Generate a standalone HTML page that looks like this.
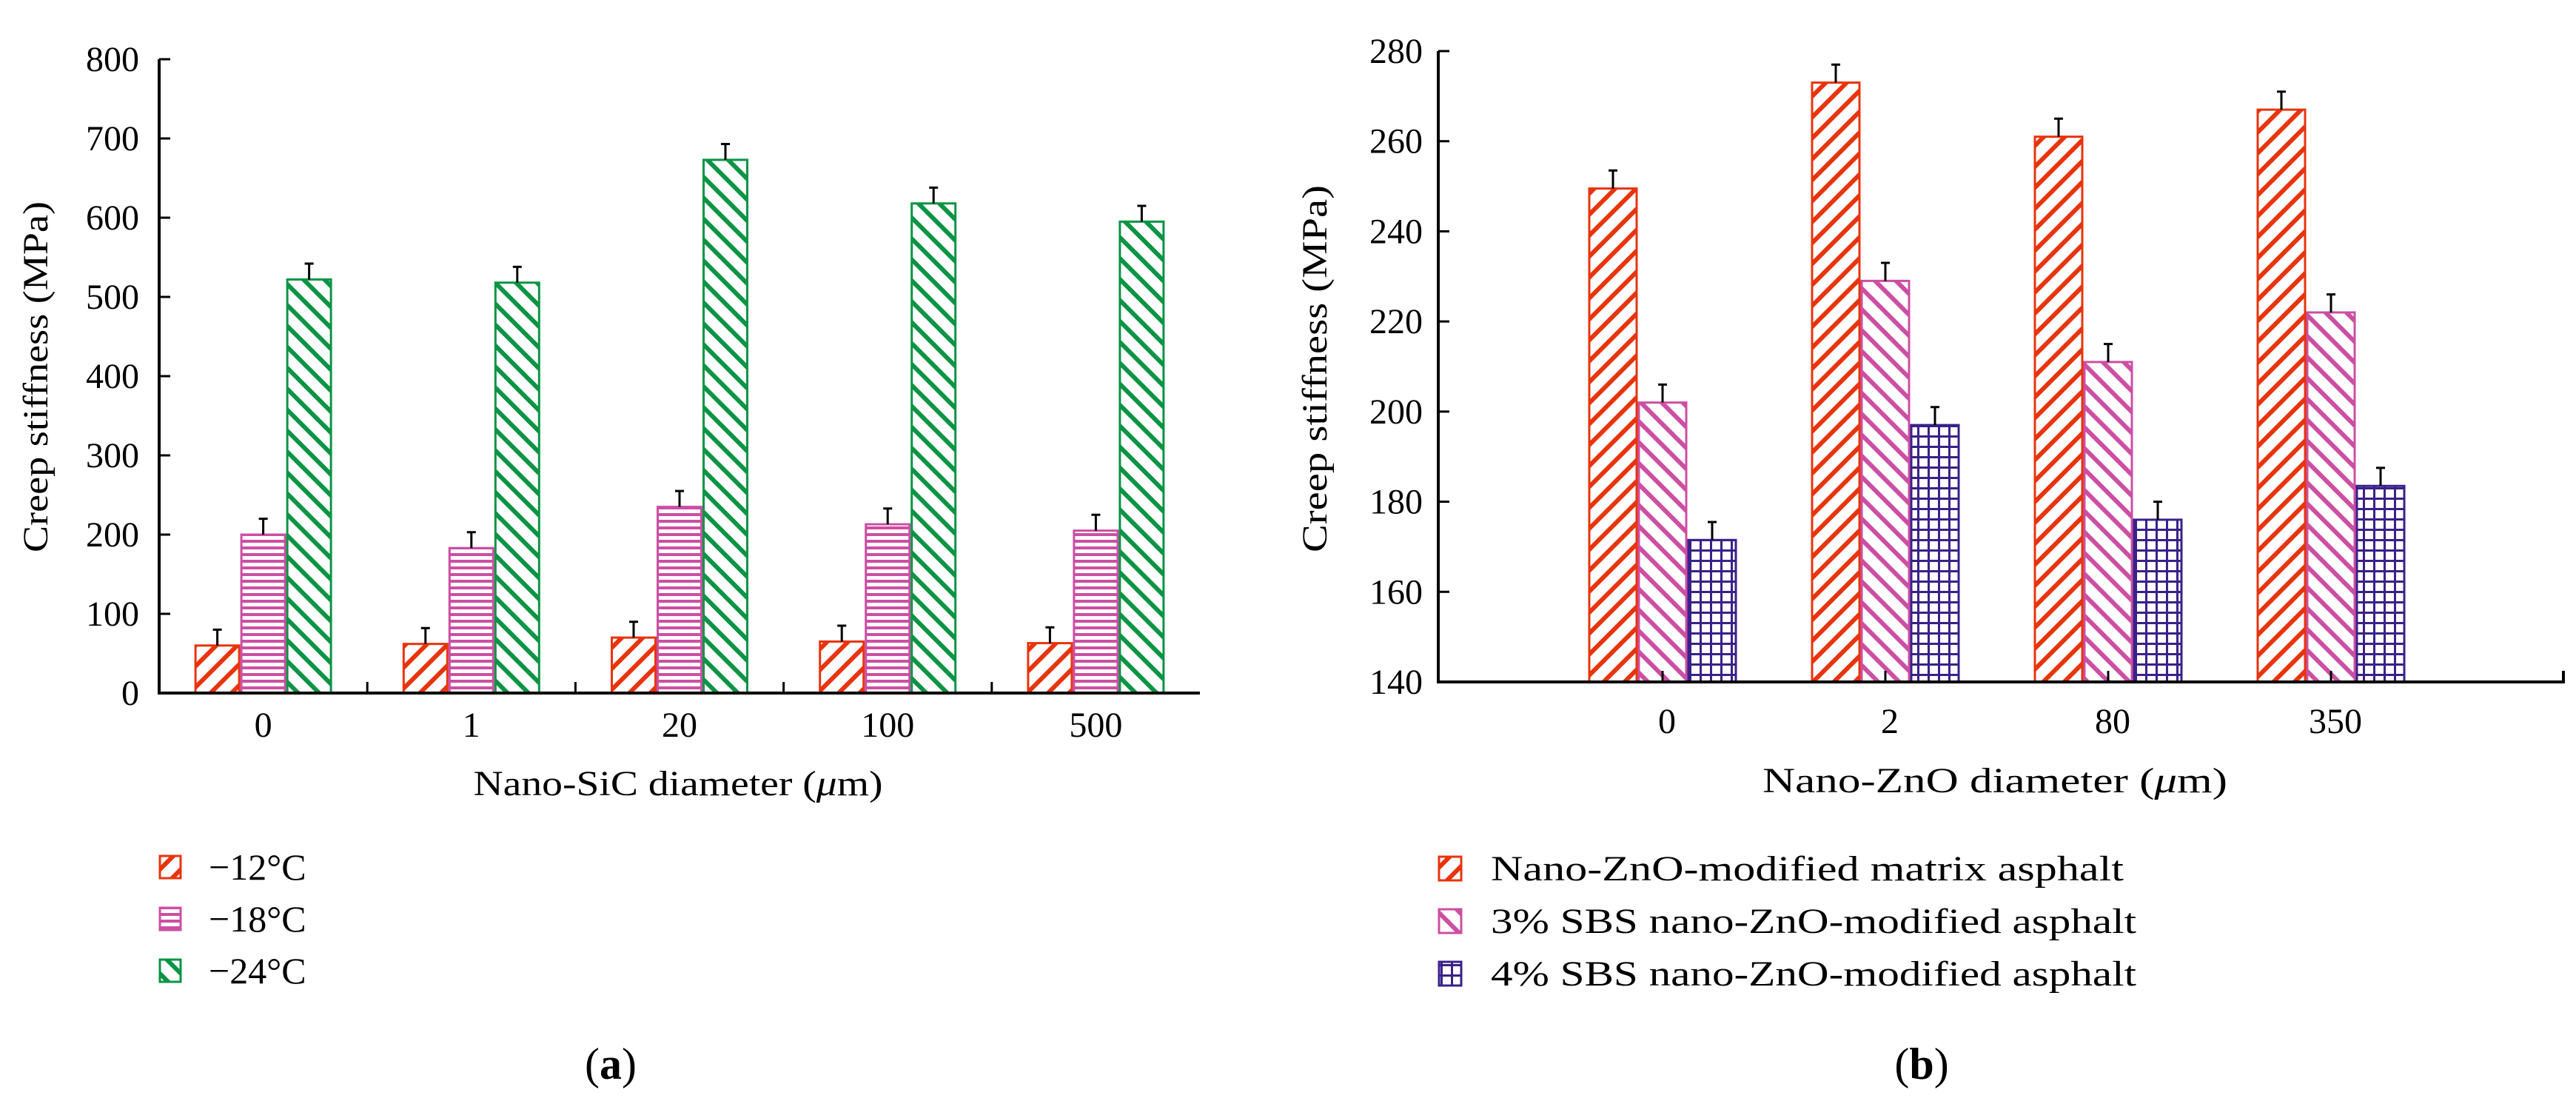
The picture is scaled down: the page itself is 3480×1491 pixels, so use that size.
<!DOCTYPE html>
<html><head><meta charset="utf-8"><style>
html,body{margin:0;padding:0;background:#fff;}
svg{display:block;font-family:"Liberation Serif",serif;}
</style></head><body>
<svg id="fig" width="3480" height="1491" viewBox="0 0 3480 1491" xmlns="http://www.w3.org/2000/svg">
<defs>
<pattern id="pRed" patternUnits="userSpaceOnUse" width="20" height="20" patternTransform="rotate(45)"><rect width="20" height="20" fill="#fff"/><rect x="0" y="0" width="6" height="20" fill="#e8340c"/></pattern>
<pattern id="pGreen" patternUnits="userSpaceOnUse" width="20" height="20" patternTransform="rotate(-45)"><rect width="20" height="20" fill="#fff"/><rect x="0" y="0" width="6" height="20" fill="#0a9444"/></pattern>
<pattern id="pPinkH" patternUnits="userSpaceOnUse" width="10" height="9"><rect width="10" height="9" fill="#fff"/><rect x="0" y="0" width="10" height="4" fill="#cc4fa3"/></pattern>
<pattern id="pPinkD" patternUnits="userSpaceOnUse" width="20" height="20" patternTransform="rotate(-45)"><rect width="20" height="20" fill="#fff"/><rect x="0" y="0" width="6" height="20" fill="#cc4fa3"/></pattern>
<pattern id="pBlue" patternUnits="userSpaceOnUse" width="14" height="14"><rect width="14" height="14" fill="#fff"/><rect x="0" y="0" width="3" height="14" fill="#3a2189"/><rect x="0" y="0" width="14" height="3" fill="#3a2189"/></pattern>
</defs>
<g id="chartA"></g>
<g id="chartB"></g>
</svg>
<script>
const catsA = ["0","1","20","100","500"];
const serA1 = [60, 62, 70, 65, 63];
const serA2 = [200, 183, 235, 213, 205];
const serA3 = [522, 518, 673, 618, 595];
const errA = [20, 20, 20, 20, 20];
const ticksA = [0,100,200,300,400,500,600,700,800];
const legendA = ["\u221212\u00b0C","\u221218\u00b0C","\u221224\u00b0C"];

const catsB = ["0","2","80","350"];
const serB1 = [249.5, 273, 261, 267];
const serB2 = [202, 229, 211, 222];
const serB3 = [171.5, 197, 176, 183.5];
const errB = [4, 4, 4, 4];
const ticksB = [140,160,180,200,220,240,260,280];
const legendB = ["Nano-ZnO-modified matrix asphalt","3% SBS nano-ZnO-modified asphalt","4% SBS nano-ZnO-modified asphalt"];

const NS = "http://www.w3.org/2000/svg";
function mk(parent, tag, attrs, text){
  const e = document.createElementNS(NS, tag);
  for (const k in attrs) e.setAttribute(k, attrs[k]);
  if (text !== undefined) e.textContent = text;
  parent.appendChild(e);
  return e;
}

// ---------- Chart A ----------
const gA = document.getElementById('chartA');
const axA = {x0:215, x1:1621, y0:936, yTop:80, vmin:0, vmax:800};
const yA = v => axA.y0 - (v - axA.vmin) / (axA.vmax - axA.vmin) * (axA.y0 - axA.yTop);
const catWA = (axA.x1 - axA.x0) / catsA.length;
const xA = i => axA.x0 + catWA * (i + 0.5);
const bwA = 62;
const seriesA = [serA1, serA2, serA3];
const fillsA = ["url(#pRed)","url(#pPinkH)","url(#pGreen)"];
const strokesA = ["#e8340c","#cc4fa3","#0a9444"];

seriesA.forEach((ser, s) => {
  ser.forEach((v, i) => {
    const x = xA(i) - 1.5*bwA + s*bwA;
    const r = mk(gA, 'rect', {x:x+1.5, y:yA(v), width:bwA-3, height:yA(0)-yA(v), fill:fillsA[s], stroke:strokesA[s], 'stroke-width':3});
    
    
    const cx = x + bwA/2;
    const eb = mk(gA, 'path', {d:`M${cx} ${yA(v)} V${yA(v+errA[i])} M${cx-6} ${yA(v+errA[i])} H${cx+6}`, stroke:'#000', 'stroke-width':3, fill:'none'});
    
    
  });
});
// axes
const axisA = mk(gA, 'path', {d:`M${axA.x0} ${axA.yTop} V${axA.y0} H${axA.x1}`, stroke:'#000', 'stroke-width':4, fill:'none'});


ticksA.forEach(t => {
  mk(gA, 'line', {x1:axA.x0, x2:axA.x0+15, y1:yA(t), y2:yA(t), stroke:'#000', 'stroke-width':3});
  const tl = mk(gA, 'text', {x:188, y:yA(t)+16, 'text-anchor':'end', 'font-size':48}, String(t));
  
  
});
for (let i = 1; i < catsA.length; i++) {
  const bx = axA.x0 + catWA*i;
  mk(gA, 'line', {x1:bx, x2:bx, y1:axA.y0, y2:axA.y0-15, stroke:'#000', 'stroke-width':3});
}
catsA.forEach((c, i) => {
  const tl = mk(gA, 'text', {x:xA(i), y:995, 'text-anchor':'middle', 'font-size':48}, c);
  
  
});
const ytA = mk(gA, 'text', {x:0, y:0, 'text-anchor':'middle', 'font-size':48, transform:'translate(64 509) rotate(-90)', textLength:474, lengthAdjust:'spacingAndGlyphs'}, 'Creep stiffness (MPa)');


const xtA = mk(gA, 'text', {x:916, y:1074, 'text-anchor':'middle', 'font-size':48, textLength:553, lengthAdjust:'spacingAndGlyphs'});


mk(xtA, 'tspan', {}, 'Nano-SiC diameter (');
mk(xtA, 'tspan', {'font-style':'italic'}, '\u03bc');
mk(xtA, 'tspan', {}, 'm)');
legendA.forEach((l, s) => {
  const cy = 1171 + s*70;
  const sw = mk(gA, 'rect', {x:216, y:cy-15, width:28, height:30, fill:fillsA[s], stroke:strokesA[s], 'stroke-width':3});
  
  
  const lt = mk(gA, 'text', {x:282, y:cy+17, 'font-size':50}, l);
  
  
});
const capA = mk(gA, 'text', {x:825, y:1457, 'text-anchor':'middle', 'font-size':60});


mk(capA, 'tspan', {}, '(');
mk(capA, 'tspan', {'font-weight':'bold'}, 'a');
mk(capA, 'tspan', {}, ')');

// ---------- Chart B ----------
const gB = document.getElementById('chartB');
const axB = {x0:1943, x1:3463, y0:921, yTop:69, vmin:140, vmax:280};
const yB = v => axB.y0 - (v - axB.vmin) / (axB.vmax - axB.vmin) * (axB.y0 - axB.yTop);
const xB = i => 2246 + 301*i;
const bwB = 67;
const seriesB = [serB1, serB2, serB3];
const fillsB = ["url(#pRed)","url(#pPinkD)","url(#pBlue)"];
const strokesB = ["#e8340c","#cc4fa3","#3a2189"];
seriesB.forEach((ser, s) => {
  ser.forEach((v, i) => {
    const x = xB(i) - 1.5*bwB + s*bwB;
    const r = mk(gB, 'rect', {x:x+1.5, y:yB(v), width:bwB-3, height:yB(axB.vmin)-yB(v), fill:fillsB[s], stroke:strokesB[s], 'stroke-width':3});
    
    
    const cx = x + bwB/2;
    const eb = mk(gB, 'path', {d:`M${cx} ${yB(v)} V${yB(v+errB[i])} M${cx-6} ${yB(v+errB[i])} H${cx+6}`, stroke:'#000', 'stroke-width':3, fill:'none'});
    
    
  });
});
const axisB = mk(gB, 'path', {d:`M${axB.x0} ${axB.yTop} V${axB.y0} H${axB.x1} V${axB.y0-15}`, stroke:'#000', 'stroke-width':4, fill:'none'});


ticksB.forEach(t => {
  mk(gB, 'line', {x1:axB.x0, x2:axB.x0+15, y1:yB(t), y2:yB(t), stroke:'#000', 'stroke-width':3});
  const tl = mk(gB, 'text', {x:1922, y:yB(t)+16, 'text-anchor':'end', 'font-size':48}, String(t));
  
  
});
catsB.forEach((c, i) => {
  mk(gB, 'line', {x1:xB(i), x2:xB(i), y1:axB.y0, y2:axB.y0-15, stroke:'#000', 'stroke-width':3});
  const tl = mk(gB, 'text', {x:xB(i)+6, y:990, 'text-anchor':'middle', 'font-size':48}, c);
  
  
});
const ytB = mk(gB, 'text', {x:0, y:0, 'text-anchor':'middle', 'font-size':48, transform:'translate(1792 498) rotate(-90)', textLength:496, lengthAdjust:'spacingAndGlyphs'}, 'Creep stiffness (MPa)');


const xtB = mk(gB, 'text', {x:2695, y:1070, 'text-anchor':'middle', 'font-size':48, textLength:628, lengthAdjust:'spacingAndGlyphs'});


mk(xtB, 'tspan', {}, 'Nano-ZnO diameter (');
mk(xtB, 'tspan', {'font-style':'italic'}, '\u03bc');
mk(xtB, 'tspan', {}, 'm)');
const legWB = [855, 872, 872];
legendB.forEach((l, s) => {
  const cy = 1173 + s*71;
  const sw = mk(gB, 'rect', {x:1944, y:cy-16, width:30, height:32, fill:fillsB[s], stroke:strokesB[s], 'stroke-width':3});
  
  
  const lt = mk(gB, 'text', {x:2014, y:cy+16, 'font-size':48, textLength:legWB[s], lengthAdjust:'spacingAndGlyphs'}, l);
  
  
});
const capB = mk(gB, 'text', {x:2596, y:1457, 'text-anchor':'middle', 'font-size':60});


mk(capB, 'tspan', {}, '(');
mk(capB, 'tspan', {'font-weight':'bold'}, 'b');
mk(capB, 'tspan', {}, ')');
</script>
</body></html>
